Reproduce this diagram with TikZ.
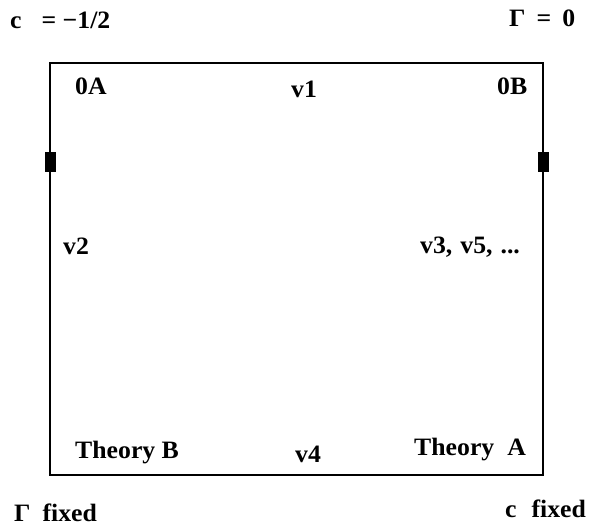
\documentclass[tikz,border=0pt]{standalone}
\usepackage{fontspec}
\setmainfont{Liberation Serif}[FakeStretch=1.03]
\usepackage{tikz}
\usetikzlibrary{positioning}
\tikzset{
  lbl/.style={anchor=base west, inner sep=0pt, font=\fontsize{25}{29}\selectfont\bfseries},
  frame/.style={draw=black, line width=1.2pt, minimum width=493pt, minimum height=412pt, inner sep=0pt},
  plug/.style={fill=black, minimum width=11pt, minimum height=20pt, inner sep=0pt}
}

\begin{document}
\begin{tikzpicture}[x=1pt,y=-1pt]
  \useasboundingbox (0,0) rectangle (589,527);
  \node[frame] (box) at (296.5,269) {};
  \node[plug] (pL) at (50,161.5) {};
  \node[plug] (pR) at (543,161.5) {};
  % labels outside
  \node[lbl] (cTop) at (10,29) {c\hspace{20pt}= −1/2};
  \node[lbl] (gTop) at (509,27) {Γ\hspace{11pt}=\hspace{11pt}0};
  \node[lbl] (gFix) at (14,521) {Γ\hspace{12pt}fixed};
  \node[lbl] (cFix) at (505,517) {c\hspace{15pt}fixed};
  % labels inside
  \node[lbl] (oA) at (75,95) {0A};
  \node[lbl] (vOne) at (291,97) {v1};
  \node[lbl] (oB) at (497,95) {0B};
  \node[lbl] (vTwo) at (63,254) {v2};
  \node[lbl] (vOdd) at (420,253) {v3,\hspace{8pt}v5,\hspace{8pt}...};
  \node[lbl] (thB) at (75,458) {Theory B};
  \node[lbl] (vFour) at (295,462) {v4};
  \node[lbl] (thA) at (414,455) {Theory\hspace{13pt}A};
\end{tikzpicture}
\end{document}
